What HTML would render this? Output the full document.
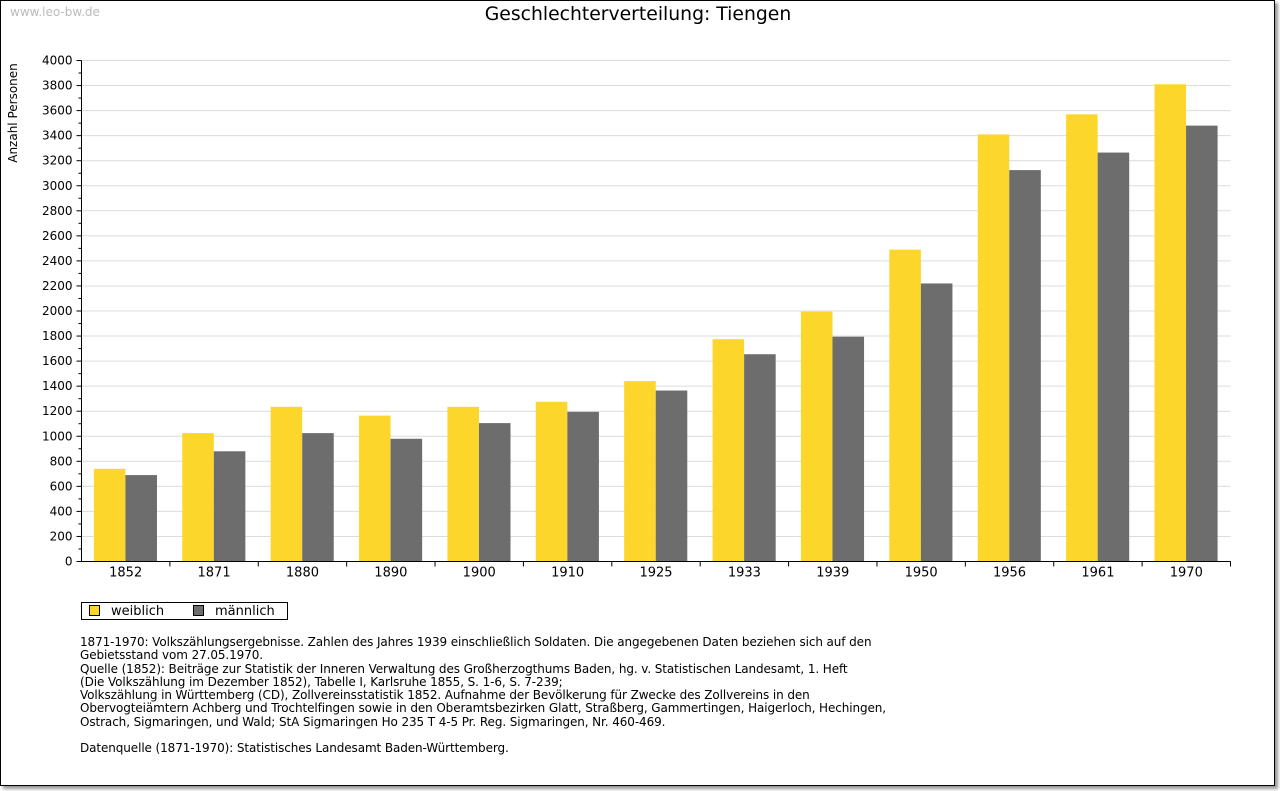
<!DOCTYPE html>
<html><head><meta charset="utf-8"><style>
body{margin:0;background:#fff;font-family:"DejaVu Sans","Liberation Sans",sans-serif;}
#frame{position:absolute;left:0;top:0;width:1273px;height:784px;border:1px solid #000;box-shadow:3px 3px 3px #999;background:#fff;}
.wm{position:absolute;left:9px;top:4px;font-size:12px;color:#bbb;}
.title{position:absolute;left:0;width:1274px;top:3px;text-align:center;font-size:18.8px;color:#000;}
.note{position:absolute;left:79px;top:635px;font-size:12px;letter-spacing:-0.1px;line-height:13.3px;color:#000;white-space:pre;}
</style></head><body>
<div id="frame">
<div class="wm">www.leo-bw.de</div>
<div class="title">Geschlechterverteilung: Tiengen</div>
<svg id="chart" width="1280" height="791" style="position:absolute;left:-1px;top:-1px"></svg>
<div class="note">1871-1970: Volkszählungsergebnisse. Zahlen des Jahres 1939 einschließlich Soldaten. Die angegebenen Daten beziehen sich auf den
Gebietsstand vom 27.05.1970.
Quelle (1852): Beiträge zur Statistik der Inneren Verwaltung des Großherzogthums Baden, hg. v. Statistischen Landesamt, 1. Heft
(Die Volkszählung im Dezember 1852), Tabelle I, Karlsruhe 1855, S. 1-6, S. 7-239;
Volkszählung in Württemberg (CD), Zollvereinsstatistik 1852. Aufnahme der Bevölkerung für Zwecke des Zollvereins in den
Obervogteiämtern Achberg und Trochtelfingen sowie in den Oberamtsbezirken Glatt, Straßberg, Gammertingen, Haigerloch, Hechingen,
Ostrach, Sigmaringen, und Wald; StA Sigmaringen Ho 235 T 4-5 Pr. Reg. Sigmaringen, Nr. 460-469.

Datenquelle (1871-1970): Statistisches Landesamt Baden-Württemberg.</div>
</div>
<script>
const categories=["1852","1871","1880","1890","1900","1910","1925","1933","1939","1950","1956","1961","1970"];
const weiblich=[740,1025,1235,1165,1235,1275,1440,1775,1995,2490,3410,3570,3810];
const maennlich=[690,880,1025,980,1105,1195,1365,1655,1795,2220,3125,3265,3480];
const yTicks=[0,200,400,600,800,1000,1200,1400,1600,1800,2000,2200,2400,2600,2800,3000,3200,3400,3600,3800,4000];
const NS="http://www.w3.org/2000/svg";
const svg=document.getElementById('chart');
const X0=81.5,X1=1230.5,Y0=561.5,Y1=60.5,YMAX=4000;
const y=v=>Y0-(v/YMAX)*(Y0-Y1);
const cw=(X1-X0)/categories.length;
const xc=i=>X0+i*cw;
function mk(t,a){const e=document.createElementNS(NS,t);for(const k in a)e.setAttribute(k,a[k]);svg.appendChild(e);return e;}
yTicks.forEach(v=>{
 if(v>0){const g=mk('line',{x1:X0,x2:X1,y1:y(v),y2:y(v),stroke:'#dcdcdc','stroke-width':1});
 
 }
 const t=mk('text',{x:X0-9,y:y(v)+4,'text-anchor':'end','font-size':12,'font-family':'DejaVu Sans, Liberation Sans, sans-serif'});
 t.textContent=v;
 
 
 mk('line',{x1:X0-5,x2:X0,y1:y(v),y2:y(v),stroke:'#000'});
 if(v<YMAX)mk('line',{x1:X0-3,x2:X0,y1:y(v+100),y2:y(v+100),stroke:'#000'});
});
const bw=cw*0.357,off=cw*0.14;
categories.forEach((c,i)=>{
 const b1=mk('rect',{x:xc(i)+off,y:y(weiblich[i]),width:bw,height:Y0-y(weiblich[i]),fill:'#fcd62b'});
 
 
 const b2=mk('rect',{x:xc(i)+off+bw,y:y(maennlich[i]),width:bw,height:Y0-y(maennlich[i]),fill:'#6d6d6d'});
 
 
 const t=mk('text',{x:xc(i)+cw/2,y:Y0+15,'text-anchor':'middle','font-size':13,'font-family':'DejaVu Sans, Liberation Sans, sans-serif'});
 t.textContent=c;
 
 
 mk('line',{x1:xc(i+1),x2:xc(i+1),y1:Y0,y2:Y0+5,stroke:'#000'});
});
mk('line',{x1:X0,x2:X0,y1:Y1,y2:Y0,stroke:'#000'});
mk('line',{x1:X0,x2:X1,y1:Y0,y2:Y0,stroke:'#000'});
const yt=mk('text',{x:0,y:0,transform:'translate(17,113) rotate(-90)','text-anchor':'middle','font-size':12,'font-family':'DejaVu Sans, Liberation Sans, sans-serif'});
yt.textContent='Anzahl Personen';


const lg=mk('rect',{x:81.5,y:602.5,width:206,height:17,fill:'#fff',stroke:'#000'});


[['weiblich','#fcd62b',89],['männlich','#6d6d6d',193]].forEach(([n,col,x])=>{
 const s=mk('rect',{x:x+0.5,y:605.5,width:10,height:10,fill:col,stroke:'#000'});
 
 
 const t=mk('text',{x:x+22,y:615,'font-size':13,'font-family':'DejaVu Sans, Liberation Sans, sans-serif'});
 t.textContent=n;
 
 
});
</script>
</body></html>
